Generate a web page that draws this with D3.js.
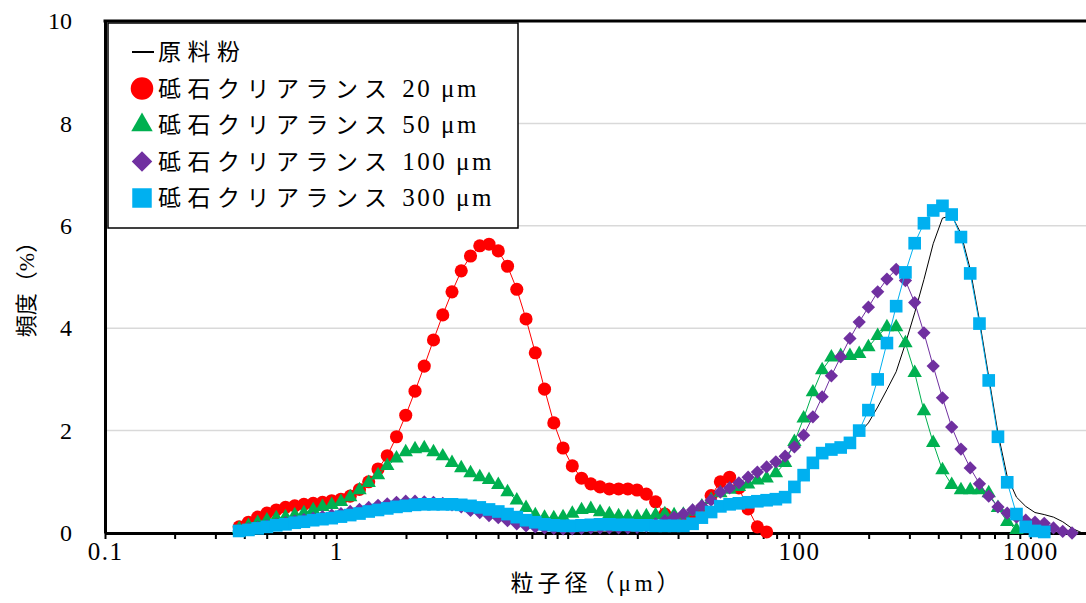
<!DOCTYPE html>
<html lang="ja">

<head>
   <meta charset="UTF-8">
   <title>粒子径分布</title>
   <script src="https://d3js.org/d3.v7.min.js"></script>
   <style>
      body {
         margin: 0;
         background: #fff;
      }

      svg {
         display: block;
      }

      .axis text {
         font-family: 'Liberation Serif', serif;
         font-size: 24px;
         fill: #000;
      }

      .x.axis text {
         font-size: 25px;
         letter-spacing: 1.5px;
      }

      .axis path,
      .axis line {
         stroke: #000;
      }

      .jp {
         font-family: 'Liberation Serif', 'Noto Sans CJK JP', sans-serif;
         fill: #000;
      }
   </style>
</head>

<body>
   <script>
      // particle size channels (um)
      const sizes = [0.380, 0.417, 0.457, 0.501, 0.550, 0.603, 0.661, 0.724, 0.794, 0.871,
         0.955, 1.047, 1.148, 1.259, 1.380, 1.514, 1.660, 1.820, 1.995, 2.188,
         2.399, 2.630, 2.884, 3.162, 3.467, 3.802, 4.169, 4.571, 5.012, 5.495,
         6.026, 6.607, 7.244, 7.943, 8.710, 9.550, 10.47, 11.48, 12.59, 13.80,
         15.14, 16.60, 18.20, 19.95, 21.88, 23.99, 26.30, 28.84, 31.62, 34.67,
         38.02, 41.69, 45.71, 50.12, 54.95, 60.26, 66.07, 72.44, 79.43, 87.10,
         95.50, 104.7, 114.8, 125.9, 138.0, 151.4, 166.0, 182.0, 199.5, 218.8,
         239.9, 263.0, 288.4, 316.2, 346.7, 380.2, 416.9, 457.1, 501.2, 549.5,
         602.6, 660.7, 724.4, 794.3, 871.0, 955.0, 1047, 1148, 1259, 1380,
         1514, 1660];

      // frequency (%) per channel, null = no point
      const rawPowder = [0.02, 0.05, 0.08, 0.11, 0.14, 0.16, 0.19, 0.21, 0.24, 0.26,
         0.28, 0.31, 0.34, 0.37, 0.41, 0.44, 0.47, 0.50, 0.52, 0.54,
         0.55, 0.56, 0.56, 0.56, 0.55, 0.54, 0.52, 0.50, 0.47, 0.43,
         0.36, 0.28, 0.20, 0.12, 0.07, 0.04, 0.03, 0.02, 0.02, 0.02,
         0.02, 0.03, 0.03, 0.04, 0.05, 0.06, 0.07, 0.08, 0.12, 0.18,
         0.28, 0.38, 0.47, 0.53, 0.57, 0.60, 0.62, 0.65, 0.68, 0.74,
         0.87, 1.10, 1.35, 1.55, 1.65, 1.72, 1.80, 1.95, 2.15, 2.46,
         2.80, 3.15, 3.70, 4.30, 4.95, 5.65, 6.15, 6.20, 5.85, 5.15,
         4.15, 3.05, 1.95, 1.10, 0.70, 0.52, 0.40, 0.36, 0.31, 0.22,
         0.09, 0.01];

      const clear20 = [0.12, 0.21, 0.31, 0.39, 0.45, 0.50, 0.53, 0.56, 0.58, 0.60,
         0.63, 0.66, 0.72, 0.85, 1.00, 1.25, 1.51, 1.88, 2.30, 2.77,
         3.26, 3.77, 4.26, 4.71, 5.12, 5.41, 5.61, 5.64, 5.51, 5.21,
         4.76, 4.18, 3.52, 2.81, 2.15, 1.66, 1.31, 1.07, 0.96, 0.90,
         0.86, 0.86, 0.86, 0.84, 0.76, 0.61, 0.37, 0.28, 0.25, 0.32,
         0.47, 0.73, 1.00, 1.09, 0.88, 0.47, 0.12, 0.02, null, null,
         null, null, null, null, null, null, null, null, null, null,
         null, null, null, null, null, null, null, null, null, null,
         null, null, null, null, null, null, null, null, null, null,
         null, null];

      const clear50 = [0.08, 0.14, 0.20, 0.25, 0.29, 0.31, 0.35, 0.39, 0.45, 0.51,
         0.55, 0.61, 0.70, 0.84, 0.98, 1.13, 1.31, 1.46, 1.58, 1.64,
         1.66, 1.58, 1.50, 1.37, 1.27, 1.17, 1.09, 1.04, 0.94, 0.80,
         0.64, 0.49, 0.35, 0.30, 0.29, 0.31, 0.38, 0.45, 0.47, 0.41,
         0.37, 0.33, 0.31, 0.31, 0.33, 0.35, 0.37, 0.35, 0.36, 0.42,
         0.52, 0.65, 0.78, 0.85, 0.90, 0.95, 1.03, 1.07, 1.17, 1.37,
         1.78, 2.24, 2.75, 3.18, 3.43, 3.46, 3.46, 3.50, 3.63, 3.85,
         4.02, 4.02, 3.71, 3.13, 2.38, 1.76, 1.23, 0.94, 0.84, 0.84,
         0.84, 0.78, 0.49, 0.22, 0.06, null, null, null, null, null,
         null, null];

      const clear100 = [0.05, 0.08, 0.11, 0.14, 0.17, 0.20, 0.23, 0.26, 0.29, 0.32,
         0.35, 0.38, 0.42, 0.46, 0.50, 0.54, 0.57, 0.60, 0.62, 0.62,
         0.61, 0.60, 0.58, 0.55, 0.51, 0.44, 0.40, 0.34, 0.30, 0.24,
         0.18, 0.14, 0.12, 0.10, 0.09, 0.08, 0.08, 0.09, 0.10, 0.10,
         0.10, 0.10, 0.10, 0.11, 0.13, 0.18, 0.24, 0.31, 0.37, 0.45,
         0.53, 0.64, 0.80, 0.88, 0.98, 1.09, 1.19, 1.29, 1.39, 1.50,
         1.68, 1.91, 2.27, 2.66, 3.07, 3.44, 3.80, 4.12, 4.41, 4.71,
         4.96, 5.15, 4.93, 4.50, 3.91, 3.26, 2.64, 2.07, 1.64, 1.27,
         0.96, 0.72, 0.51, 0.39, 0.31, 0.25, 0.21, 0.19, 0.10, 0.03,
         0.00, null];

      const clear300 = [0.04, 0.06, 0.09, 0.12, 0.15, 0.17, 0.20, 0.22, 0.25, 0.27,
         0.29, 0.32, 0.35, 0.38, 0.42, 0.45, 0.48, 0.51, 0.53, 0.55,
         0.56, 0.56, 0.56, 0.56, 0.55, 0.53, 0.50, 0.46, 0.42, 0.37,
         0.31, 0.25, 0.21, 0.17, 0.15, 0.14, 0.14, 0.15, 0.16, 0.17,
         0.17, 0.16, 0.16, 0.15, 0.15, 0.14, 0.14, 0.14, 0.14, 0.18,
         0.30, 0.41, 0.52, 0.56, 0.58, 0.60, 0.62, 0.64, 0.66, 0.70,
         0.90, 1.13, 1.37, 1.56, 1.63, 1.67, 1.76, 2.00, 2.40, 3.00,
         3.71, 4.43, 5.09, 5.66, 6.05, 6.30, 6.39, 6.22, 5.78, 5.07,
         4.09, 2.98, 1.88, 0.99, 0.37, 0.12, 0.04, 0.02, null, null,
         null, null];

      const seriesNames = ['原料粉', '砥石クリアランス 20 μm', '砥石クリアランス 50 μm',
         '砥石クリアランス 100 μm', '砥石クリアランス 300 μm'];
      const xTickLabels = [0.1, 1, 100, 1000];
      const yTicks = [0, 2, 4, 6, 8, 10];

      const width = 1086;
      const height = 603;
      const plot = { left: 105, top: 21, right: 1100, bottom: 533 };

      const series = [
         { name: seriesNames[0], values: rawPowder, color: '#000000', symbol: null },
         { name: seriesNames[1], values: clear20, color: '#ff0000', symbol: d3.symbolCircle, size: 135, legendSize: 400, rot: 0 },
         { name: seriesNames[2], values: clear50, color: '#00b050', symbol: d3.symbolTriangle, size: 90, legendSize: 200, rot: 0 },
         { name: seriesNames[3], values: clear100, color: '#7030a0', symbol: d3.symbolSquare, size: 88, legendSize: 210, rot: 45 },
         { name: seriesNames[4], values: clear300, color: '#00b0f0', symbol: d3.symbolSquare, size: 160, legendSize: 380, rot: 0 }
      ];

      const svg = d3.select('body').append('svg')
         .attr('width', width)
         .attr('height', height);

      const x = d3.scaleLog()
         .domain([0.1, 2000])
         .range([plot.left, plot.right]);

      const y = d3.scaleLinear()
         .domain([0, 10])
         .range([plot.bottom, plot.top]);

      // gridlines
      svg.append('g').selectAll('line')
         .data(yTicks.filter(d => d > 0 && d < 10))
         .enter().append('line')
         .attr('x1', plot.left)
         .attr('x2', plot.right)
         .attr('y1', d => y(d))
         .attr('y2', d => y(d))
         .attr('stroke', '#d9d9d9')
         .attr('stroke-width', 1.5);

      // log ticks: every 1..9 x decade
      const xTicks = [];
      for (let e = -1; e <= 3; e++) {
         for (let m = 1; m <= 9; m++) {
            const v = +(m * Math.pow(10, e)).toPrecision(6);
            if (v <= 2000) xTicks.push(v);
         }
      }

      const xAxis = d3.axisBottom(x)
         .tickValues(xTicks)
         .tickSize(6)
         .tickSizeOuter(0)
         .tickPadding(3)
         .tickFormat(d => xTickLabels.includes(d) ? String(d) : '');

      const gx = svg.append('g')
         .attr('class', 'x axis')
         .attr('transform', `translate(0, ${plot.bottom})`)
         .call(xAxis);
      gx.select('.domain').attr('stroke-width', 3);
      gx.selectAll('.tick line').attr('stroke-width', 2);

      const yAxis = d3.axisLeft(y)
         .tickValues(yTicks)
         .tickSize(0)
         .tickPadding(33);

      const gy = svg.append('g')
         .attr('class', 'y axis')
         .attr('transform', `translate(${plot.left}, 0)`)
         .call(yAxis);
      gy.select('.domain').attr('stroke-width', 3);

      // top border of plot area
      svg.append('line')
         .attr('x1', plot.left - 1.5)
         .attr('x2', plot.right)
         .attr('y1', plot.top)
         .attr('y2', plot.top)
         .attr('stroke', '#000')
         .attr('stroke-width', 3);

      // series
      const line = d3.line()
         .defined(d => d.v !== null)
         .x(d => x(d.s))
         .y(d => y(d.v));

      series.forEach(sr => {
         const pts = sizes.map((s, i) => ({ s: s, v: sr.values[i] }));
         const g = svg.append('g');
         g.append('path')
            .datum(pts)
            .attr('d', line)
            .attr('fill', 'none')
            .attr('stroke', sr.color)
            .attr('stroke-width', 1);
         if (sr.symbol) {
            g.selectAll('path.mk')
               .data(pts.filter(d => d.v !== null))
               .enter().append('path')
               .attr('class', 'mk')
               .attr('d', d3.symbol().type(sr.symbol).size(sr.size))
               .attr('transform', d => `translate(${x(d.s)}, ${y(d.v)}) rotate(${sr.rot})`)
               .attr('fill', sr.color);
         }
      });

      // legend
      const legend = svg.append('g');
      legend.append('rect')
         .attr('x', 108)
         .attr('y', 23)
         .attr('width', 410)
         .attr('height', 205)
         .attr('fill', '#fff')
         .attr('stroke', '#000')
         .attr('stroke-width', 1.5);

      series.forEach((sr, i) => {
         const cy = 52 + i * 36.5;
         if (sr.symbol) {
            legend.append('path')
               .attr('d', d3.symbol().type(sr.symbol).size(sr.legendSize))
               .attr('transform', `translate(142, ${cy}) rotate(${sr.rot})`)
               .attr('fill', sr.color);
         } else {
            legend.append('line')
               .attr('x1', 132).attr('x2', 154)
               .attr('y1', cy).attr('y2', cy)
               .attr('stroke', sr.color)
               .attr('stroke-width', 2);
         }
         const parts = sr.name.split(' ');
         const t = legend.append('text')
            .attr('class', 'jp')
            .attr('x', 158)
            .attr('y', cy + 8)
            .attr('font-size', '23px');
         t.append('tspan')
            .attr('letter-spacing', '6.5px')
            .text(parts[0]);
         if (parts.length > 1) {
            t.append('tspan')
               .attr('font-size', '25px')
               .attr('letter-spacing', '2.5px')
               .text(' ' + parts.slice(1).join(' '));
         }
      });

      // axis titles
      svg.append('text')
         .attr('class', 'jp')
         .attr('x', 597)
         .attr('y', 591)
         .attr('text-anchor', 'middle')
         .attr('font-size', '23px')
         .attr('letter-spacing', '4px')
         .text('粒子径（μm）');

      svg.append('text')
         .attr('class', 'jp')
         .attr('transform', 'translate(34, 284) rotate(-90)')
         .attr('text-anchor', 'middle')
         .attr('font-size', '22px')
         .text('頻度（%）');
   </script>
</body>

</html>
